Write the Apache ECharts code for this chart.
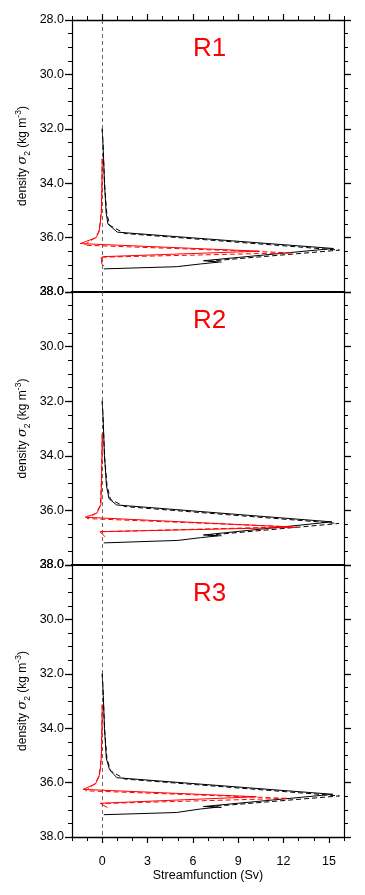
<!DOCTYPE html>
<html><head><meta charset="utf-8">
<script src="https://cdn.jsdelivr.net/npm/echarts@6/dist/echarts.min.js"></script>
<style>html,body{margin:0;padding:0;background:#fff}#c{width:365px;height:895px}</style>
</head><body><div id="c"></div><script>
// ---- labels / ticks ----
const panelLabels = ['R1', 'R2', 'R3'];
const xTickLabels = [0, 3, 6, 9, 12, 15];
const xMinorTicks = [-2, -1, 0, 1, 2, 3, 4, 5, 6, 7, 8, 9, 10, 11, 12, 13, 14, 15, 16];
const yTickLabels = [28, 30, 32, 34, 36, 38];
const xTitle = 'Streamfunction (Sv)';

// ---- data: [streamfunction (Sv), density sigma2] ----
const r1BlackSolid = [[0,32.0],[0.07,32.8],[0.15,34.0],[0.26,35.1],[0.38,35.5],[1.0,35.8],[15.3,36.4],[6.7,36.85],[7.7,36.9],[6.5,36.97],[4.9,37.07],[0.1,37.15]];
const r1BlackDashed = [[0,32.0],[0.07,32.8],[0.15,34.0],[0.3,35.1],[0.5,35.55],[1.5,35.85],[15.7,36.46],[7.0,36.87],[7.9,36.9]];
const r1RedSolid = [[0,33.1],[-0.02,34.0],[-0.05,35.0],[-0.13,35.5],[-0.22,35.8],[-0.4,36.0],[-1.45,36.22],[10.4,36.5],[10.4,36.56],[0.09,36.7],[-0.07,36.74],[-0.02,36.98],[0.13,37.05]];
const r1RedDashed = [[0,33.1],[-0.02,34.0],[-0.06,35.0],[-0.15,35.5],[-0.25,35.8],[-0.45,36.0],[-1.2,36.28],[12.6,36.56],[0.0,36.72]];

const r2BlackSolid = [[0,32.0],[0.07,32.8],[0.15,34.0],[0.28,35.1],[0.45,35.57],[0.95,35.8],[15.2,36.42],[6.7,36.9],[7.7,36.93],[6.5,37.0],[5.0,37.1],[0.1,37.19]];
const r2BlackDashed = [[0,32.0],[0.07,32.8],[0.15,34.0],[0.32,35.1],[0.55,35.6],[1.5,35.86],[15.66,36.48],[7.0,36.91],[7.9,36.93]];
const r2RedSolid = [[0,33.2],[-0.02,34.0],[-0.05,35.0],[-0.09,35.8],[-0.35,36.1],[-1.12,36.25],[12.9,36.62],[-0.15,36.78],[0.2,36.97]];
const r2RedDashed = [[0,33.2],[-0.02,34.0],[-0.06,35.0],[-0.12,35.8],[-0.4,36.1],[-1.0,36.3],[12.5,36.6],[-0.1,36.78]];

const r3BlackSolid = [[0,32.0],[0.07,32.8],[0.15,34.0],[0.27,35.1],[0.48,35.52],[0.97,35.82],[15.26,36.43],[6.7,36.88],[7.7,36.9],[6.5,36.97],[4.9,37.1],[0.1,37.18]];
const r3BlackDashed = [[0,32.0],[0.07,32.8],[0.15,34.0],[0.31,35.1],[0.55,35.57],[1.5,35.87],[15.7,36.49],[7.0,36.89],[7.9,36.92]];
const r3RedSolid = [[0,33.13],[-0.02,34.0],[-0.05,35.0],[-0.12,35.5],[-0.22,35.8],[-0.45,36.05],[-1.27,36.25],[10.2,36.52],[10.3,36.57],[-0.13,36.76],[0.35,36.92]];
const r3RedDashed = [[0,33.13],[-0.02,34.0],[-0.06,35.0],[-0.14,35.5],[-0.25,35.8],[-0.5,36.05],[-1.1,36.3],[12.3,36.58],[-0.1,36.77]];

const panels = [
  [r1BlackSolid, r1BlackDashed, r1RedSolid, r1RedDashed],
  [r2BlackSolid, r2BlackDashed, r2RedSolid, r2RedDashed],
  [r3BlackSolid, r3BlackDashed, r3RedSolid, r3RedDashed]
];

// ---- layout ----
const FONT = 'Liberation Sans';
const gridTops = [20, 292, 565];
const gridHeights = [272, 273, 272];
const grids = gridTops.map((t, i) => ({left: 72, right: 21, top: t, height: gridHeights[i], containLabel: false, outerBoundsMode: 'none'}));

const xAxes = [];
const yAxes = [];
const series = [];
const titles = [];

panels.forEach((p, i) => {
  const last = i === panels.length - 1;
  const first = i === 0;
  const mainIdx = xAxes.length;
  xAxes.push({
    type: 'value', gridIndex: i, position: 'bottom', min: -2, max: 16,
    axisLine: {show: true, onZero: false, lineStyle: {color: '#000', width: last ? 1.3 : 2}},
    axisTick: {show: last, inside: false, length: 4, customValues: xMinorTicks, lineStyle: {color: '#000', width: 1}},
    axisLabel: {show: last, customValues: xTickLabels, margin: 18, color: '#000', fontSize: 12.5, fontFamily: FONT},
    splitLine: {show: false},
    name: last ? xTitle : '', nameLocation: 'middle', nameGap: 32, nameMoveOverlap: false,
    nameTextStyle: {color: '#000', fontSize: 12.5, fontFamily: FONT}
  });
  if (last) {
    xAxes.push({
      type: 'value', gridIndex: i, position: 'bottom', min: -2, max: 16,
      axisLine: {show: false, onZero: false},
      axisTick: {show: true, length: 6, customValues: xTickLabels, lineStyle: {color: '#000', width: 1.2}},
      axisLabel: {show: false}, splitLine: {show: false}
    });
  }
  xAxes.push({
    type: 'value', gridIndex: i, position: 'top', min: -2, max: 16,
    axisLine: {show: true, onZero: false, lineStyle: {color: '#000', width: first ? 1.3 : 2}},
    axisTick: {show: first, length: 4, customValues: xMinorTicks, lineStyle: {color: '#000', width: 1}},
    axisLabel: {show: false}, splitLine: {show: false}
  });
  if (first) {
    xAxes.push({
      type: 'value', gridIndex: i, position: 'top', min: -2, max: 16,
      axisLine: {show: false, onZero: false},
      axisTick: {show: true, length: 6, customValues: xTickLabels, lineStyle: {color: '#000', width: 1.2}},
      axisLabel: {show: false}, splitLine: {show: false}
    });
  }
  const yIdx = yAxes.length;
  yAxes.push({
    type: 'value', gridIndex: i, position: 'left', inverse: true, min: 28, max: 38, interval: 2,
    axisLine: {show: true, onZero: false, lineStyle: {color: '#000', width: 1.2}},
    axisTick: {show: true, length: 7, lineStyle: {color: '#000', width: 1.3}},
    minorTick: {show: true, splitNumber: 4, length: 4, lineStyle: {color: '#000', width: 1}},
    axisLabel: {show: true, margin: 8, color: '#000', fontSize: 12.5, fontFamily: FONT,
      formatter: v => yTickLabels.includes(v) ? v.toFixed(1) : ''},
    splitLine: {show: false},
    name: 'density {s|σ}{sub|2} (kg m{sup|-3})',
    nameLocation: 'middle', nameGap: 40, nameRotate: 90, nameMoveOverlap: false,
    nameTextStyle: {color: '#000', fontSize: 12, fontFamily: FONT, lineHeight: 18,
      rich: {
        s: {fontStyle: 'italic', fontSize: 13, fontFamily: 'DejaVu Serif', lineHeight: 18, color: '#000'},
        sub: {fontSize: 8.5, lineHeight: 10, verticalAlign: 'bottom', fontFamily: FONT, color: '#000'},
        sup: {fontSize: 8.5, lineHeight: 10, verticalAlign: 'top', fontFamily: FONT, color: '#000'}
      }}
  });
  yAxes.push({
    type: 'value', gridIndex: i, position: 'right', inverse: true, min: 28, max: 38, interval: 2,
    axisLine: {show: true, onZero: false, lineStyle: {color: '#000', width: 1.2}},
    axisTick: {show: true, length: 7, lineStyle: {color: '#000', width: 1.3}},
    minorTick: {show: true, splitNumber: 4, length: 4, lineStyle: {color: '#000', width: 1}},
    axisLabel: {show: false}, splitLine: {show: false}
  });

  const styles = [
    {color: '#000', type: 'solid'},
    {color: '#000', type: [5, 3]},
    {color: '#ff0000', type: 'solid'},
    {color: '#ff0000', type: [5, 3]}
  ];
  p.forEach((d, k) => {
    const s = {
      type: 'line', xAxisIndex: mainIdx, yAxisIndex: yIdx, data: d,
      symbol: 'none', showSymbol: false, animation: false, silent: true,
      lineStyle: {color: styles[k].color, type: styles[k].type, width: 1},
      itemStyle: {color: styles[k].color}, z: 3 + k
    };
    if (k === 0) {
      s.markLine = {
        silent: true, symbol: 'none', animation: false,
        label: {show: false},
        lineStyle: {color: '#444', type: [4, 3], width: 0.8},
        data: [{xAxis: 0}]
      };
    }
    series.push(s);
  });

  titles.push({
    text: panelLabels[i], left: 193, top: gridTops[i] + 16, padding: 0,
    textStyle: {color: '#ff0000', fontSize: 26, fontWeight: 'normal', fontFamily: FONT}
  });
});

const chart = echarts.init(document.getElementById('c'), null, {renderer: 'canvas'});
chart.setOption({
  animation: false,
  backgroundColor: '#fff',
  textStyle: {fontFamily: FONT},
  title: titles,
  grid: grids,
  xAxis: xAxes,
  yAxis: yAxes,
  series: series
});
</script></body></html>
